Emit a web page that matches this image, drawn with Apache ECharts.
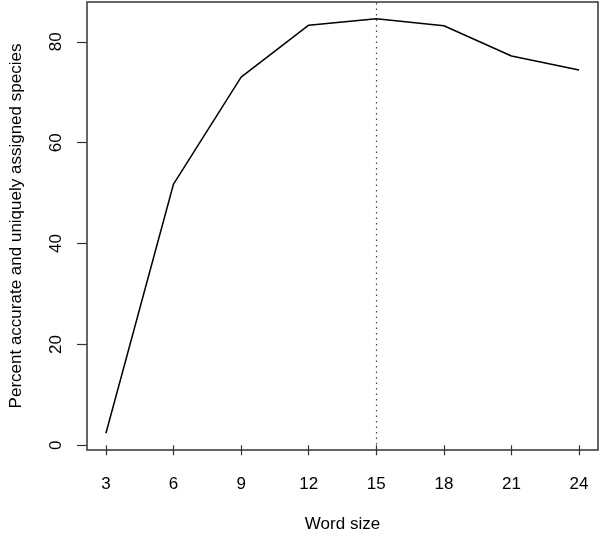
<!DOCTYPE html>
<html>
<head>
<meta charset="utf-8">
<script src="https://cdn.jsdelivr.net/npm/echarts@6/dist/echarts.min.js"></script>
<style>html,body{margin:0;padding:0;background:#fff;}#c{width:600px;height:539px;}</style>
</head>
<body>
<div id="c"></div>
<script>
var wordSizes = [3, 6, 9, 12, 15, 18, 21, 24];
var percents = [2.4, 51.8, 73.0, 83.3, 84.6, 83.2, 77.2, 74.4];
var xTicks = [3, 6, 9, 12, 15, 18, 21, 24];
var yTicks = [0, 20, 40, 60, 80];
var bestWordSize = 15;
var xTitle = 'Word size';
var yTitle = 'Percent accurate and uniquely assigned species';

var chart = echarts.init(document.getElementById('c'));
var font = 'Liberation Sans, Arial, Helvetica, sans-serif';
chart.setOption({
  animation: false,
  backgroundColor: '#fff',
  grid: {left: 86, right: 2, top: 2, bottom: 89, show: true, borderColor: '#333', borderWidth: 1.5, backgroundColor: 'transparent'},
  xAxis: {
    type: 'value', min: 2.16, max: 24.84,
    name: xTitle, nameLocation: 'middle', nameGap: 66,
    nameTextStyle: {fontFamily: font, fontSize: 17, color: '#000'},
    axisLine: {show: false},
    splitLine: {show: false},
    axisTick: {show: true, length: 10, lineStyle: {color: '#333', width: 1.2}, customValues: xTicks},
    axisLabel: {fontFamily: font, fontSize: 17, color: '#000', margin: 26, customValues: xTicks}
  },
  yAxis: {
    type: 'value', min: -0.93, max: 87.9,
    name: yTitle, nameLocation: 'middle', nameGap: 62, nameRotate: 90,
    nameTextStyle: {fontFamily: font, fontSize: 17, color: '#000'},
    axisLine: {show: false},
    splitLine: {show: false},
    axisTick: {show: true, length: 10, lineStyle: {color: '#333', width: 1.2}, customValues: yTicks},
    axisLabel: {fontFamily: font, fontSize: 17, color: '#000', margin: 22, rotate: 90, customValues: yTicks}
  },
  series: [{
    type: 'line',
    data: wordSizes.map(function (w, i) { return [w, percents[i]]; }),
    showSymbol: false,
    lineStyle: {color: '#000', width: 1.5},
    markLine: {
      silent: true, symbol: 'none', label: {show: false},
      lineStyle: {color: '#444', type: [1.5, 4], width: 1.2},
      data: [{xAxis: bestWordSize}]
    }
  }]
});
</script>
</body>
</html>
